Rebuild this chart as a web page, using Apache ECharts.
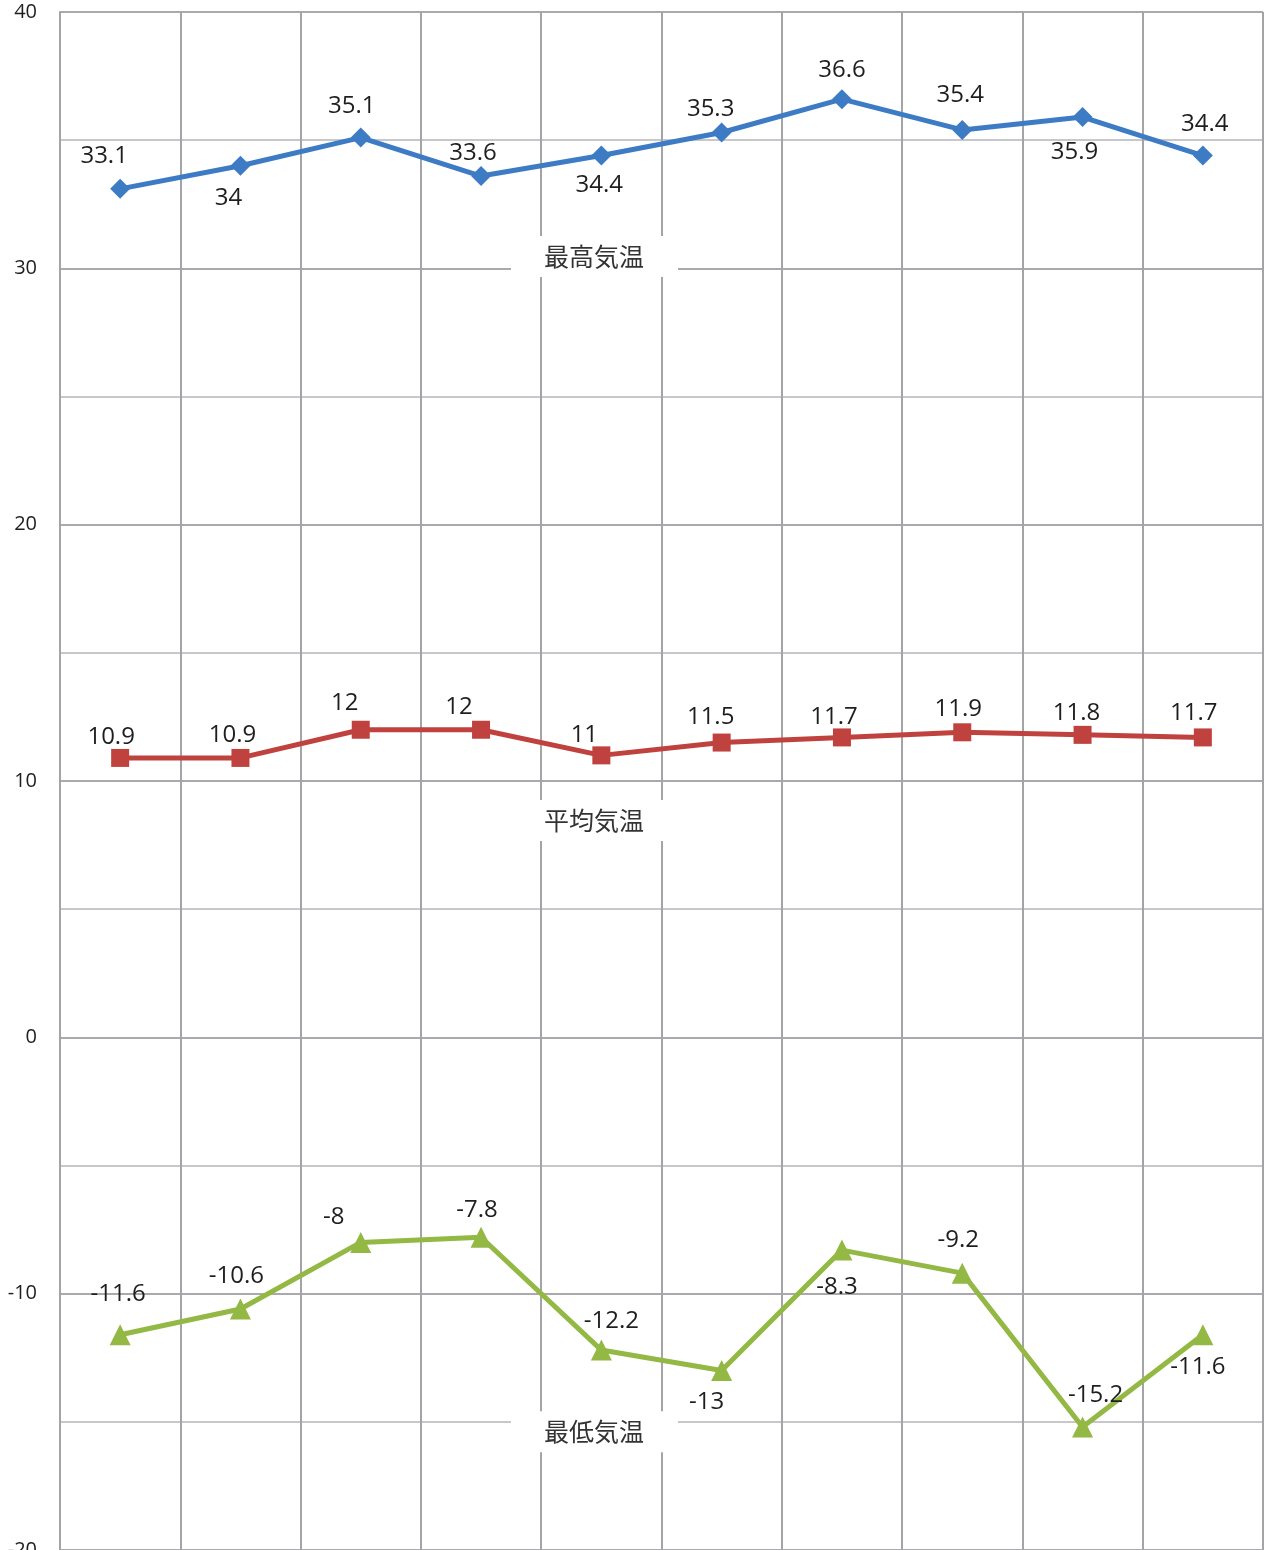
<!DOCTYPE html>
<html>
<head>
<meta charset="utf-8">
<style>
html,body{margin:0;padding:0;background:#fff;}
#chart{width:1269px;height:1550px;}
</style>
<script src="https://cdn.jsdelivr.net/npm/echarts@6/dist/echarts.min.js"></script>
</head>
<body>
<div id="chart"></div>
<script>
// ---- data ----
const categories = ['1','2','3','4','5','6','7','8','9','10'];
const seriesNames = ['最高気温','平均気温','最低気温'];
const maxTemp = [33.1, 34, 35.1, 33.6, 34.4, 35.3, 36.6, 35.4, 35.9, 34.4];
const avgTemp = [10.9, 10.9, 12, 12, 11, 11.5, 11.7, 11.9, 11.8, 11.7];
const minTemp = [-11.6, -10.6, -8, -7.8, -12.2, -13, -8.3, -9.2, -15.2, -11.6];
const yTicks = [-20, -10, 0, 10, 20, 30, 40];

// ---- label placement (styling only) ----
const maxOffsets = [[-16,-33],[-12,32],[-9,-31],[-8,-23],[-2,30],[-11,-23],[0,-29],[-2,-35],[-8,35],[2,-31]];
const avgOffsets = [[-9,-21],[-8,-23],[-16,-27],[-22,-23],[-17,-20],[-11,-25],[-8,-20],[-4,-23],[-6,-22],[-9,-24]];
const minOffsets = [[-2,-41],[-4,-33],[-27,-25],[-4,-27],[10,-29],[-15,32],[-5,37],[-4,-33],[13,-32],[-5,32]];
const nameValues = [30.4, 8.4, -15.45];

const chart = echarts.init(document.getElementById('chart'));
const labelFont = {fontFamily:'Open Sans', fontSize:24, color:'#1e1e1e'};

function mkData(vals, offs){
  return vals.map((v,i)=>({value:v, label:{offset:offs[i]}}));
}
function mkSeries(name, vals, offs, color, symbol, size){
  return {
    name:name, type:'line', data:mkData(vals, offs),
    symbol:symbol, symbolSize:size,
    lineStyle:{width:5, color:color},
    itemStyle:{color:color},
    label:Object.assign({show:true, position:'inside'}, labelFont),
    emphasis:{disabled:true}, animation:false, z:3
  };
}

chart.setOption({
  animation:false,
  grid:{left:60, right:6, top:12, height:1538, containLabel:false, outerBoundsMode:'none'},
  xAxis:{
    type:'category', data:categories, boundaryGap:true,
    axisLine:{show:false}, axisTick:{show:false}, axisLabel:{show:false},
    splitLine:{show:true, interval:0, lineStyle:{color:'#a4a4a8', width:2}}
  },
  yAxis:{
    type:'value', min:-20, max:40, interval:5,
    axisLine:{show:true, lineStyle:{color:'#a4a4a8', width:2}},
    axisTick:{show:false},
    axisLabel:{
      fontFamily:'Open Sans', fontSize:20, color:'#1e1e1e', margin:23,
      formatter:function(v){ return yTicks.indexOf(v) >= 0 ? String(v) : ''; }
    },
    splitLine:{show:true, lineStyle:{color:['#aaaaae','#c8c8cc'], width:2}}
  },
  series:[
    mkSeries(seriesNames[0], maxTemp, maxOffsets, '#3d7cc4', 'diamond', 20),
    mkSeries(seriesNames[1], avgTemp, avgOffsets, '#c0423e', 'rect', 18),
    mkSeries(seriesNames[2], minTemp, minOffsets, '#93b844', 'triangle', 21)
  ]
});

// series-name labels, placed in data coordinates
const graphics = seriesNames.map((n,i)=>{
  const p = chart.convertToPixel({gridIndex:0}, [0, nameValues[i]]);
  return {
    type:'text', left:511, top:p[1]-22, z:10,
    style:{
      text:n, fontFamily:'Noto Sans CJK JP', fontSize:25, fill:'#333',
      backgroundColor:'#fff', padding:[8,30,8,33], width:104, align:'left'
    }
  };
});
chart.setOption({graphic:graphics});
</script>
</body>
</html>
